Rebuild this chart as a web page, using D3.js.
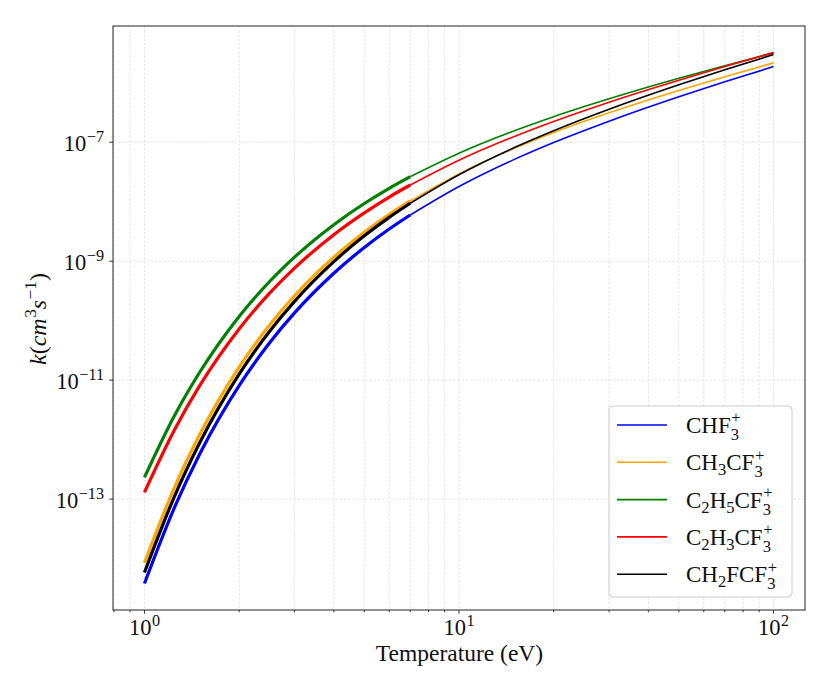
<!DOCTYPE html>
<html><head><meta charset="utf-8">
<script src="https://cdn.jsdelivr.net/npm/d3@7"></script>
<style>
html,body{margin:0;padding:0;background:#fff;}
svg text{font-family:"Liberation Serif","DejaVu Serif",serif;fill:#111;}
</style></head>
<body><svg id="c" width="830" height="692"></svg>
<script>
// ---- data ----
const seriesNames = ["CHF3+", "CH3CF3+", "C2H5CF3+", "C2H3CF3+", "CH2FCF3+"];
const seriesColors = ["blue", "orange", "green", "red", "black"];
const T_fit = [1, 1.25, 1.5, 2, 2.5, 3, 4, 5, 6, 7];
const T_ext = [7, 10, 15, 20, 30, 50, 70, 100];

const kCHF3_fit    = [3.82e-15, 7.53e-14, 5.79e-13, 8.09e-12, 4.25e-11, 1.35e-10, 6.27e-10, 1.70e-9, 3.47e-9, 5.98e-9];
const kCHF3_ext    = [5.98e-9, 1.80e-8, 5.15e-8, 9.89e-8, 2.26e-7, 5.81e-7, 1.04e-6, 1.87e-6];
const kCH3CF3_fit  = [8.49e-15, 1.64e-13, 1.23e-12, 1.66e-11, 8.45e-11, 2.62e-10, 1.17e-9, 3.07e-9, 6.11e-9, 1.03e-8];
const kCH3CF3_ext  = [1.03e-8, 2.94e-8, 7.91e-8, 1.46e-7, 3.13e-7, 7.43e-7, 1.26e-6, 2.16e-6];
const kC2H5CF3_fit = [2.32e-13, 2.62e-12, 1.37e-11, 1.18e-10, 4.56e-10, 1.17e-9, 4.11e-9, 9.33e-9, 1.68e-8, 2.64e-8];
const kC2H5CF3_ext = [2.64e-8, 6.55e-8, 1.56e-7, 2.69e-7, 5.37e-7, 1.19e-6, 1.93e-6, 3.18e-6];
const kC2H3CF3_fit = [1.30e-13, 1.51e-12, 8.15e-12, 7.26e-11, 2.90e-10, 7.64e-10, 2.79e-9, 6.49e-9, 1.20e-8, 1.91e-8];
const kC2H3CF3_ext = [1.91e-8, 4.98e-8, 1.25e-7, 2.23e-7, 4.70e-7, 1.10e-6, 1.87e-6, 3.22e-6];
const kCH2FCF3_fit = [5.85e-15, 1.16e-13, 8.95e-13, 1.26e-11, 6.62e-11, 2.11e-10, 9.82e-10, 2.67e-9, 5.46e-9, 9.42e-9];
const kCH2FCF3_ext = [9.42e-9, 2.84e-8, 8.13e-8, 1.56e-7, 3.58e-7, 9.23e-7, 1.65e-6, 2.98e-6];

const xMajorTicks = [1, 10, 100];
const xMajorLabels = ["0", "1", "2"];
const yMajorTicks = [1e-13, 1e-11, 1e-9, 1e-7];
const yMajorLabels = ["\u221213", "\u221211", "\u22129", "\u22127"];

// legend label parts: normal text + optional subscript/superscript
const legendParts = [
  [{t:"CHF", sub:"3", sup:"+"}],
  [{t:"CH", sub:"3"}, {t:"CF", sub:"3", sup:"+"}],
  [{t:"C", sub:"2"}, {t:"H", sub:"5"}, {t:"CF", sub:"3", sup:"+"}],
  [{t:"C", sub:"2"}, {t:"H", sub:"3"}, {t:"CF", sub:"3", sup:"+"}],
  [{t:"CH", sub:"2"}, {t:"FCF", sub:"3", sup:"+"}]
];

const fitSeries = [kCHF3_fit, kCH3CF3_fit, kC2H5CF3_fit, kC2H3CF3_fit, kCH2FCF3_fit];
const extSeries = [kCHF3_ext, kCH3CF3_ext, kC2H5CF3_ext, kC2H3CF3_ext, kCH2FCF3_ext];

// ---- layout ----
const L = 113, R = 805, TOP = 26, B = 610;
const svg = d3.select("#c");

function logPad(vals) {
  const lo = Math.log10(d3.min(vals)), hi = Math.log10(d3.max(vals));
  const p = (hi - lo) * 0.05;
  return [Math.pow(10, lo - p), Math.pow(10, hi + p)];
}
const allT = T_fit.concat(T_ext);
const allK = [].concat(...fitSeries, ...extSeries);
const x = d3.scaleLog().domain(logPad(allT)).range([L, R]);
const y = d3.scaleLog().domain(logPad(allK)).range([B, TOP]);

// text measuring
function measure(str, fs, italic) {
  const t = svg.append("text").attr("font-size", fs).attr("font-style", italic ? "italic" : "normal").text(str);
  const w = t.node().getComputedTextLength();
  t.remove();
  return w;
}
// rich text helper: one <text> element with positioned tspans
function rich(parent, parts, fs, anchor) {
  const pieces = [];
  let cx = 0;
  const ss = fs * 0.72;
  parts.forEach(p => {
    pieces.push({s: p.t, x: cx, y: 0, fs: fs, i: !!p.i});
    cx += measure(p.t, fs, p.i);
    let w = 0;
    if (p.sub) {
      pieces.push({s: p.sub, x: cx, y: fs * (p.sup ? 0.30 : 0.22), fs: ss, i: false});
      w = Math.max(w, measure(p.sub, ss, false));
    }
    if (p.sup) {
      pieces.push({s: p.sup, x: cx + 0.5, y: -fs * 0.42, fs: ss, i: false});
      w = Math.max(w, measure(p.sup, ss, false) + 0.5);
    }
    cx += w;
  });
  const dx = anchor === "middle" ? -cx / 2 : anchor === "end" ? -cx : 0;
  const g = parent.append("g");
  const t = g.append("text");
  pieces.forEach(pc => {
    t.append("tspan").attr("x", pc.x + dx).attr("y", pc.y).attr("font-size", pc.fs)
      .attr("font-style", pc.i ? "italic" : "normal").text(pc.s);
  });
  return g;
}

// ---- grid ----
const [xd0, xd1] = x.domain();
const xMinor = [];
for (let e = -1; e <= 2; e++) for (let m = 1; m <= 9; m++) {
  const v = m * Math.pow(10, e);
  if (v >= xd0 && v <= xd1) xMinor.push(v);
}
const grid = svg.append("g");
grid.selectAll("line.vx").data(xMinor).enter().append("line")
  .attr("x1", d => x(d)).attr("x2", d => x(d)).attr("y1", TOP).attr("y2", B)
  .attr("stroke", "#dadada").attr("stroke-width", 0.7).attr("stroke-dasharray", "2.6,1.6");
grid.selectAll("line.hy").data(yMajorTicks).enter().append("line")
  .attr("x1", L).attr("x2", R).attr("y1", d => y(d)).attr("y2", d => y(d))
  .attr("stroke", "#dadada").attr("stroke-width", 0.7).attr("stroke-dasharray", "2.6,1.6");

// ---- curves ----
const plot = svg.append("g");
const line = d3.line().x(d => x(d[0])).y(d => y(d[1])).curve(d3.curveMonotoneX);
seriesNames.forEach((name, i) => {
  plot.append("path").datum(T_fit.map((t, j) => [t, fitSeries[i][j]]))
    .attr("d", line).attr("fill", "none").attr("stroke", seriesColors[i]).attr("stroke-width", 3.2);
  plot.append("path").datum(T_ext.map((t, j) => [t, extSeries[i][j]]))
    .attr("d", line).attr("fill", "none").attr("stroke", seriesColors[i]).attr("stroke-width", 1.6);
});

// ---- frame & ticks ----
svg.append("rect").attr("x", L).attr("y", TOP).attr("width", R - L).attr("height", B - TOP)
  .attr("fill", "none").attr("stroke", "#222").attr("stroke-width", 1);
const tk = svg.append("g").attr("stroke", "#222").attr("stroke-width", 0.9);
tk.selectAll("line.mn").data(xMinor.filter(v => !xMajorTicks.includes(v))).enter().append("line")
  .attr("x1", d => x(d)).attr("x2", d => x(d)).attr("y1", B).attr("y2", B + 2.2);
tk.selectAll("line.mj").data(xMajorTicks).enter().append("line")
  .attr("x1", d => x(d)).attr("x2", d => x(d)).attr("y1", B).attr("y2", B + 3.8);
tk.selectAll("line.yj").data(yMajorTicks).enter().append("line")
  .attr("x1", L - 3.8).attr("x2", L).attr("y1", d => y(d)).attr("y2", d => y(d));

xMajorTicks.forEach((v, i) => {
  const g = rich(svg, [{t:"10", sup:xMajorLabels[i]}], 22.5, "middle");
  g.attr("transform", `translate(${x(v)},635)`);
});
yMajorTicks.forEach((v, i) => {
  const g = rich(svg, [{t:"10", sup:yMajorLabels[i]}], 22.5, "end");
  g.attr("transform", `translate(${L - 9},${y(v) + 9})`);
});

// axis labels
rich(svg, [{t:"Temperature (eV)"}], 23.5, "middle").attr("transform", `translate(${(L + R) / 2 + 0.5},661)`);
rich(svg, [{t:"k", i:true}, {t:"("}, {t:"cm", i:true, sup:"3"}, {t:"s", i:true, sup:"\u22121"}, {t:")"}], 24, "middle")
  .attr("transform", `translate(46,319) rotate(-90)`);

// ---- legend ----
const lg = svg.append("g");
lg.append("rect").attr("x", 609).attr("y", 406).attr("width", 183).attr("height", 191)
  .attr("rx", 4).attr("fill", "#fff").attr("fill-opacity", 0.85).attr("stroke", "#cccccc").attr("stroke-width", 1);
seriesNames.forEach((name, i) => {
  const ry = 425 + i * 37.3;
  lg.append("line").attr("x1", 617).attr("x2", 667).attr("y1", ry).attr("y2", ry)
    .attr("stroke", seriesColors[i]).attr("stroke-width", 1.6);
  rich(lg, legendParts[i], 23, "start").attr("transform", `translate(686,${ry + 8})`);
});
</script></body></html>
